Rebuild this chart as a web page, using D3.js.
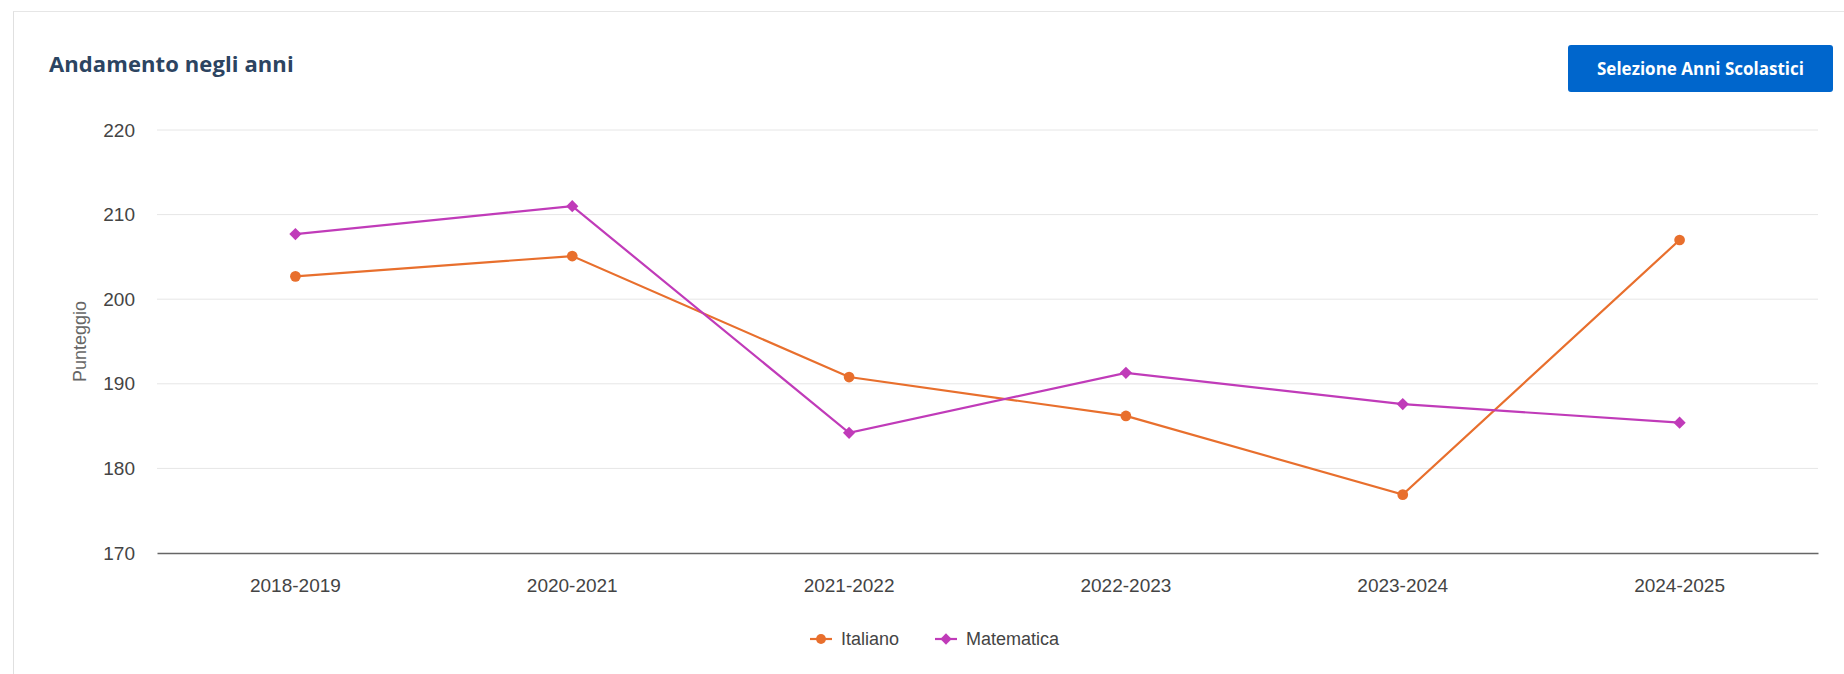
<!DOCTYPE html>
<html>
<head>
<meta charset="utf-8">
<script src="https://cdn.jsdelivr.net/npm/d3@7"></script>
<style>
  html, body { margin: 0; padding: 0; background: #fff; }
  #card {
    position: absolute; left: 13px; top: 11px; width: 1845px; height: 700px;
    border-left: 1px solid #e0e0e0; border-top: 1px solid #e6e6e6; box-sizing: border-box;
  }
  #chart { position: absolute; left: 0; top: 0; }
</style>
</head>
<body>
<div id="card"></div>
<div id="chart"></div>
<script>
var categories = ['2018-2019', '2020-2021', '2021-2022', '2022-2023', '2023-2024', '2024-2025'];
var italiano = [202.7, 205.1, 190.8, 186.2, 176.9, 207.0];
var matematica = [207.7, 211.0, 184.2, 191.3, 187.6, 185.4];
var yTicks = [170, 180, 190, 200, 210, 220];

var W = 1844, H = 674;
var plot = { left: 157, right: 1818, top: 130, bottom: 553 };

var svg = d3.select('#chart').append('svg')
    .attr('width', W)
    .attr('height', H);

// title
svg.append('text')
    .attr('x', 49).attr('y', 72)
    .attr('font-family', '"Open Sans", sans-serif')
    .attr('font-weight', 700)
    .attr('font-size', 22)
    .attr('letter-spacing', 0.1)
    .attr('fill', '#2c4461')
    .text('Andamento negli anni');

// button
var btn = svg.append('g');
btn.append('rect')
    .attr('x', 1568).attr('y', 45)
    .attr('width', 265).attr('height', 47)
    .attr('rx', 3)
    .attr('fill', '#0066cc');
btn.append('text')
    .attr('x', 1568 + 265 / 2).attr('y', 75)
    .attr('text-anchor', 'middle')
    .attr('font-family', '"Open Sans", sans-serif')
    .attr('font-weight', 700)
    .attr('font-size', 17)
    .attr('fill', '#fff')
    .text('Selezione Anni Scolastici');

var x = d3.scaleBand()
    .domain(categories)
    .range([plot.left, plot.right]);

var y = d3.scaleLinear()
    .domain([170, 220])
    .range([plot.bottom, plot.top]);

// grid
svg.append('g')
    .selectAll('line')
    .data(yTicks.filter(function(t) { return t > 170; }))
    .enter().append('line')
    .attr('x1', plot.left).attr('x2', plot.right)
    .attr('y1', function(d) { return y(d); })
    .attr('y2', function(d) { return y(d); })
    .attr('stroke', '#e6e6e6')
    .attr('stroke-width', 1);

// y axis
var yAxis = svg.append('g')
    .attr('transform', 'translate(' + (plot.left - 22) + ',0)')
    .call(d3.axisLeft(y).tickValues(yTicks).tickSize(0).tickPadding(0));
yAxis.select('.domain').remove();
yAxis.selectAll('text')
    .attr('font-family', '"Liberation Sans", Arial, sans-serif')
    .attr('font-size', 19)
    .attr('fill', '#444');

svg.append('text')
    .attr('transform', 'translate(80,' + ((plot.top + plot.bottom) / 2) + ') rotate(-90)')
    .attr('text-anchor', 'middle')
    .attr('dy', '0.35em')
    .attr('font-family', '"Liberation Sans", Arial, sans-serif')
    .attr('font-size', 18)
    .attr('fill', '#666')
    .text('Punteggio');

// x axis
var xAxis = svg.append('g')
    .attr('transform', 'translate(0,' + plot.bottom + ')')
    .call(d3.axisBottom(x).tickSize(0).tickPadding(26));
xAxis.select('.domain')
    .attr('stroke', '#666')
    .attr('stroke-width', 1.5);
xAxis.selectAll('text')
    .attr('font-family', '"Liberation Sans", Arial, sans-serif')
    .attr('font-size', 19)
    .attr('fill', '#444');

var cx = function(d, i) { return x(categories[i]) + x.bandwidth() / 2; };

var series = [
    { name: 'Italiano', values: italiano, color: '#e86f2d', symbol: d3.symbolCircle, size: 90, rot: 0 },
    { name: 'Matematica', values: matematica, color: '#c03bb9', symbol: d3.symbolSquare, size: 75, rot: 45 }
];

var line = d3.line()
    .x(cx)
    .y(function(d) { return y(d); });

series.forEach(function(s) {
    var g = svg.append('g');
    g.append('path')
        .datum(s.values)
        .attr('d', line)
        .attr('fill', 'none')
        .attr('stroke', s.color)
        .attr('stroke-width', 2.2);
    g.selectAll('path.marker')
        .data(s.values)
        .enter().append('path')
        .attr('class', 'marker')
        .attr('transform', function(d, i) {
            return 'translate(' + cx(d, i) + ',' + y(d) + ') rotate(' + s.rot + ')';
        })
        .attr('d', d3.symbol().type(s.symbol).size(s.size))
        .attr('fill', s.color);
});

// legend
var legendX = [810, 935];
var legendY = 639;
series.forEach(function(s, i) {
    var g = svg.append('g').attr('transform', 'translate(' + legendX[i] + ',' + legendY + ')');
    g.append('line')
        .attr('x1', 0).attr('x2', 22)
        .attr('stroke', s.color)
        .attr('stroke-width', 2.2);
    g.append('path')
        .attr('transform', 'translate(11,0) rotate(' + s.rot + ')')
        .attr('d', d3.symbol().type(s.symbol).size(s.size * 0.85))
        .attr('fill', s.color);
    g.append('text')
        .attr('x', 31)
        .attr('dy', '0.35em')
        .attr('font-family', '"Liberation Sans", Arial, sans-serif')
        .attr('font-size', 18)
        .attr('fill', '#444')
        .text(s.name);
});
</script>
</body>
</html>
